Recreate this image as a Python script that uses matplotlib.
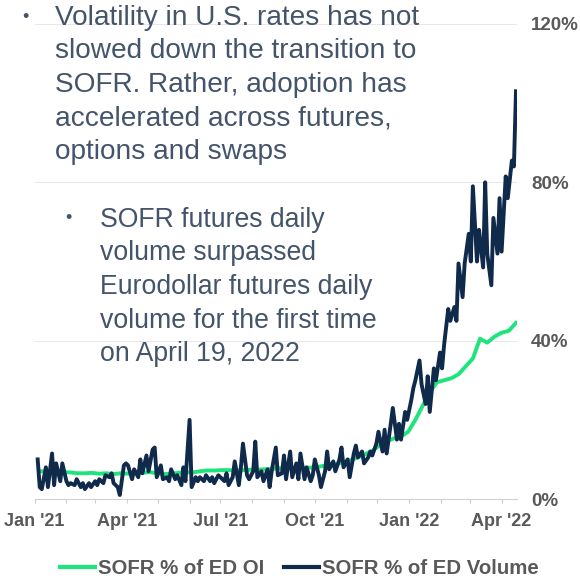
"""SOFR share of Eurodollar futures: OI and volume, Jan 2021 - Apr 2022"""

import numpy as np
import pandas as pd
import matplotlib
matplotlib.use('Agg')
import matplotlib.pyplot as plt
import matplotlib.dates as mdates
from matplotlib.ticker import FuncFormatter

plt.rcParams['font.family'] = ['Liberation Sans', 'DejaVu Sans']

W, H = 580, 578

# SOFR % of ED volume, sampled every 2nd business day from 4 Jan 2021
vol_jan21 = [10, 3, 2.5, 8, 3, 11.5, 3.5, 9, 4.5, 9]
vol_feb21 = [4.5, 3.5, 4, 3.5, 5, 3, 4, 2.5, 4, 3]
vol_mar21 = [4.5, 3.5, 5, 4, 6, 5.5, 6.5, 4, 3, 1, 8.5, 9]
vol_apr21 = [8.5, 5, 7.5, 5.5, 10, 6.5, 11, 7, 12.5, 13, 5.5]
vol_may21 = [8.5, 5, 5.5, 4.5, 7.5, 5, 6, 3.5, 8, 4.5]
vol_jun21 = [20, 3, 5.5, 4.5, 5.5, 4.5, 6, 4.5, 5.5, 4, 6]
vol_jul21 = [5.5, 4.5, 6.5, 3.5, 5.5, 9.5, 3.5, 8, 14, 6, 5]
vol_aug21 = [7, 14.5, 5.5, 7, 4.5, 7.5, 3, 7, 13, 6, 6.5]
vol_sep21 = [11, 5, 12, 5.5, 9, 5, 11.5, 5, 8, 4.5, 6]
vol_oct21 = [10, 6, 3, 7, 12, 7.5, 9.5, 7, 10, 13, 8]
vol_nov21 = [10, 5.5, 11.5, 13.5, 10.5, 12, 9, 10.5, 12, 11, 14]
vol_dec21 = [17, 12, 17.5, 11.5, 19, 23, 15, 19, 15, 22, 20]
vol_jan22 = [25, 28, 30, 35, 29, 24, 31, 22, 33, 30, 37]
vol_feb22 = [33, 39, 48, 45, 48.5, 45, 59.5, 51, 59.5, 67]
vol_mar22 = [60, 79, 60, 68, 58.5, 80, 62, 54, 71, 62, 76]
vol_apr22 = [62.5, 81.5, 76, 85.5, 84, 103]

volume = (vol_jan21 + vol_feb21 + vol_mar21 + vol_apr21 + vol_may21
          + vol_jun21 + vol_jul21 + vol_aug21 + vol_sep21 + vol_oct21
          + vol_nov21 + vol_dec21 + vol_jan22 + vol_feb22 + vol_mar22
          + vol_apr22)

# SOFR % of ED open interest, weekly (Fridays) from 8 Jan 2021
oi = [7, 7, 6.8, 6.8, 6.7, 6.5, 6.5, 6.6, 6.4, 6.5, 6.3, 6.5, 6.4,
      6.5, 6.6, 6.8, 6.5, 6.3, 6.4, 6.6, 6.8, 6.7, 7.0, 7.2, 7.2, 7.3,
      7.3, 7.2, 7.3, 7.4, 7.4, 7.5, 7.6, 7.8, 7.6, 7.7, 7.9, 7.9, 8.0,
      8.3, 8.6, 8.8, 9.3,
      9.8, 10.5, 11.3, 12.2, 13.5,
      14.6, 15.3, 15.8, 17,
      20, 23.5, 27, 29.5, 30,
      30.5, 31.5, 33.5, 35.5,
      40.5, 39.5, 41, 42,
      42.5, 44.5]

vol_dates = pd.bdate_range('2021-01-04', periods=len(volume), freq='2B')
oi_dates = pd.date_range('2021-01-08', periods=len(oi), freq='W-FRI')

y_ticks = [0, 40, 80, 120]

note_1 = ['Volatility in U.S. rates has not',
          'slowed down the transition to',
          'SOFR. Rather, adoption has',
          'accelerated across futures,',
          'options and swaps']
note_2 = ['SOFR futures daily',
          'volume surpassed',
          'Eurodollar futures daily',
          'volume for the first time',
          'on April 19, 2022']

GREEN = '#1ee57b'
NAVY = '#0f2a4a'
LABEL = '#595959'
NOTE = '#44546a'

fig = plt.figure(figsize=(W / 100, H / 100), dpi=100)
ax = fig.add_axes([34.6 / W, 1 - 499 / H, (517 - 34.6) / W, (499 - 24) / H])

ax.plot(oi_dates, oi, color=GREEN, lw=2.8, label='SOFR % of ED OI',
        solid_joinstyle='round', zorder=3)
ax.plot(vol_dates, volume, color=NAVY, lw=2.8, label='SOFR % of ED Volume',
        solid_joinstyle='round', zorder=4)

ax.set_ylim(0, 120)
ax.set_xlim(pd.Timestamp('2021-01-01'), pd.Timestamp('2022-04-16'))
ax.set_yticks(y_ticks)
ax.yaxis.set_major_formatter(FuncFormatter(lambda v, p: f'{v:.0f}%'))
ax.yaxis.tick_right()
ax.tick_params(axis='y', length=0, pad=10, labelsize=13.5, labelcolor=LABEL)
for lbl in ax.get_yticklabels():
    lbl.set_fontweight('bold')
    lbl.set_horizontalalignment('left')

ax.xaxis.set_major_locator(mdates.MonthLocator(bymonth=[1, 4, 7, 10]))
ax.xaxis.set_minor_locator(mdates.MonthLocator())
ax.xaxis.set_major_formatter(mdates.DateFormatter("%b '%y"))
ax.tick_params(axis='x', which='both', length=3, width=0.8, color='#d0d0d0',
               direction='out')
ax.tick_params(axis='x', which='major', pad=7, labelsize=13,
               labelcolor=LABEL)
for lbl in ax.get_xticklabels():
    lbl.set_fontweight('bold')

for s in ['left', 'right', 'top']:
    ax.spines[s].set_visible(False)
ax.spines['bottom'].set_color('#d0d0d0')
ax.spines['bottom'].set_linewidth(0.8)
ax.grid(axis='y', color='#e8e8e8', lw=0.7, zorder=0)
ax.set_axisbelow(True)

leg = fig.legend(loc='center', bbox_to_anchor=(0.516, 1 - 569 / H), ncol=2,
                 frameon=False, handlelength=1.7, handletextpad=0.15,
                 columnspacing=1.0,
                 prop={'size': 14.7, 'weight': 'bold'})
for t in leg.get_texts():
    t.set_color(LABEL)
for h in leg.legend_handles:
    h.set_linewidth(3)


def note_block(lines, x_bullet, x_text, y_first, size, step=33.5):
    fig.text(x_bullet / W, 1 - (y_first - 8) / H, '\u2022', fontsize=13,
             color=NOTE, ha='left', va='center')
    for i, line in enumerate(lines):
        fig.text(x_text / W, 1 - (y_first + i * step) / H, line,
                 fontsize=size, color=NOTE, ha='left', va='baseline')


note_block(note_1, 22, 55, 25, 20.2)
note_block(note_2, 65, 100, 227, 19.2)

fig.savefig('out.png', dpi=100)
